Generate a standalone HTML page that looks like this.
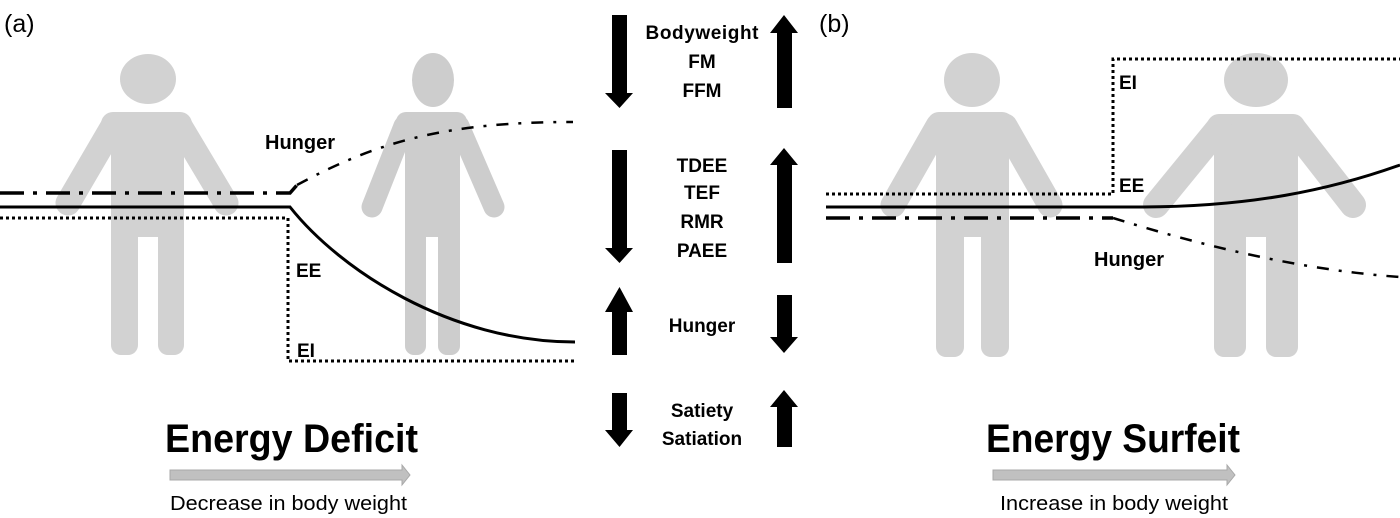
<!DOCTYPE html>
<html><head><meta charset="utf-8"><style>
html,body{margin:0;padding:0;background:#fff;}
svg{display:block;}
text{font-family:"Liberation Sans",sans-serif;}
</style></head><body>
<svg width="1400" height="518" viewBox="0 0 1400 518" xmlns="http://www.w3.org/2000/svg">
<g fill="#d2d2d2" stroke="#d2d2d2">
 <ellipse cx="148" cy="79" rx="28" ry="25" stroke="none"/>
 <rect x="101" y="112" width="91" height="40" rx="12" stroke="none"/>
 <rect x="111" y="120" width="73" height="117" stroke="none"/>
 <line x1="113" y1="126" x2="68" y2="203" stroke-width="25" stroke-linecap="round"/>
 <line x1="180" y1="126" x2="226" y2="203" stroke-width="25" stroke-linecap="round"/>
 <rect x="111" y="200" width="27" height="155" rx="10" stroke="none"/>
 <rect x="158" y="200" width="26" height="155" rx="10" stroke="none"/>
 <ellipse cx="433" cy="80" rx="21" ry="27" fill="#cdcdcd" stroke="none"/>
 <rect x="396" y="112" width="71" height="40" rx="10" fill="#cdcdcd" stroke="none"/>
 <rect x="405" y="120" width="55" height="117" fill="#cdcdcd" stroke="none"/>
 <line x1="404" y1="126" x2="372" y2="207" stroke="#cdcdcd" stroke-width="21" stroke-linecap="round"/>
 <line x1="459" y1="126" x2="494" y2="207" stroke="#cdcdcd" stroke-width="21" stroke-linecap="round"/>
 <rect x="405" y="200" width="21" height="155" rx="9" fill="#cdcdcd" stroke="none"/>
 <rect x="438" y="200" width="22" height="155" rx="9" fill="#cdcdcd" stroke="none"/>
 <ellipse cx="972" cy="80" rx="28" ry="27" stroke="none"/>
 <rect x="927" y="112" width="87" height="40" rx="12" stroke="none"/>
 <rect x="936" y="120" width="73" height="117" stroke="none"/>
 <line x1="938" y1="126" x2="893" y2="205" stroke-width="25" stroke-linecap="round"/>
 <line x1="1005" y1="126" x2="1050" y2="205" stroke-width="25" stroke-linecap="round"/>
 <rect x="936" y="200" width="28" height="157" rx="10" stroke="none"/>
 <rect x="981" y="200" width="28" height="157" rx="10" stroke="none"/>
 <ellipse cx="1256" cy="80" rx="32" ry="27" stroke="none"/>
 <rect x="1207" y="114" width="98" height="40" rx="12" stroke="none"/>
 <rect x="1214" y="120" width="84" height="117" stroke="none"/>
 <line x1="1219" y1="128" x2="1156" y2="205" stroke-width="26" stroke-linecap="round"/>
 <line x1="1293" y1="128" x2="1353" y2="205" stroke-width="26" stroke-linecap="round"/>
 <rect x="1214" y="200" width="32" height="157" rx="10" stroke="none"/>
 <rect x="1266" y="200" width="32" height="157" rx="10" stroke="none"/>
</g>
<g fill="none" stroke="#000">
 <path d="M0 193 L290 193 L297 185" stroke-width="3.5" stroke-dasharray="24 9 4 9"/>
 <path d="M297 185 C380 140 450 122 573 122" stroke-width="2.5" stroke-dasharray="12 10 3 10"/>
 <path d="M0 207 L290 207 C340 270 450 342 575 342" stroke-width="3"/>
 <path d="M0 218 L288 218 L288 361 L575 361" stroke-width="3" stroke-dasharray="3 3"/>
 <path d="M826 194 L1113 194 L1113 59 L1400 59" stroke-width="3" stroke-dasharray="3 3"/>
 <path d="M826 207 L1140 207 C1250 207 1330 190 1400 165" stroke-width="3"/>
 <path d="M826 218 L1113 218" stroke-width="3.5" stroke-dasharray="24 9 4 9"/>
 <path d="M1113 218 C1200 245 1300 270 1400 277" stroke-width="2.5" stroke-dasharray="12 10 3 10"/>
</g>
<text x="4" y="32" font-size="25">(a)</text>
<text x="819" y="32" font-size="25">(b)</text>
<g font-size="19" font-weight="bold">
 <text x="265" y="149" font-size="20">Hunger</text>
 <text x="296" y="277">EE</text>
 <text x="297" y="357">EI</text>
 <text x="1119" y="89">EI</text>
 <text x="1119" y="192">EE</text>
 <text x="1094" y="266" font-size="20">Hunger</text>
</g>
<g font-size="19" font-weight="bold" text-anchor="middle">
 <text x="702" y="39" textLength="113">Bodyweight</text>
 <text x="702" y="68">FM</text>
 <text x="702" y="97">FFM</text>
 <text x="702" y="172">TDEE</text>
 <text x="702" y="199">TEF</text>
 <text x="702" y="228">RMR</text>
 <text x="702" y="257">PAEE</text>
 <text x="702" y="332">Hunger</text>
 <text x="702" y="417">Satiety</text>
 <text x="702" y="445">Satiation</text>
</g>
<g fill="#000">
 <polygon points="612,15 627,15 627,93 633,93 619.5,108 605,93 612,93"/>
 <polygon points="612,150 627,150 627,248 633,248 619.5,263 605,248 612,248"/>
 <polygon points="612,355 627,355 627,312 633,312 619.5,287 605,312 612,312"/>
 <polygon points="612,393 627,393 627,430 633,430 619.5,447 605,430 612,430"/>
 <polygon points="777,108 792,108 792,33 798,33 784,15 770,33 777,33"/>
 <polygon points="777,263 792,263 792,165 798,165 784,148 770,165 777,165"/>
 <polygon points="777,295 792,295 792,337 798,337 784,353 770,337 777,337"/>
 <polygon points="777,447 792,447 792,407 798,407 784,390 770,407 777,407"/>
</g>
<text x="165" y="452" font-size="40" font-weight="bold" textLength="253" lengthAdjust="spacingAndGlyphs">Energy Deficit</text>
<text x="986" y="452" font-size="40" font-weight="bold" textLength="254" lengthAdjust="spacingAndGlyphs">Energy Surfeit</text>
<polygon points="170,470 402,470 402,465 410,475 402,485 402,480 170,480" fill="#c0c0c0" stroke="#a8a8a8" stroke-width="1"/>
<polygon points="993,470 1227,470 1227,465 1235,475 1227,485 1227,480 993,480" fill="#c0c0c0" stroke="#a8a8a8" stroke-width="1"/>
<text x="170" y="510" font-size="20" textLength="237" lengthAdjust="spacingAndGlyphs">Decrease in body weight</text>
<text x="1000" y="510" font-size="20" textLength="228" lengthAdjust="spacingAndGlyphs">Increase in body weight</text>
</svg>
</body></html>
